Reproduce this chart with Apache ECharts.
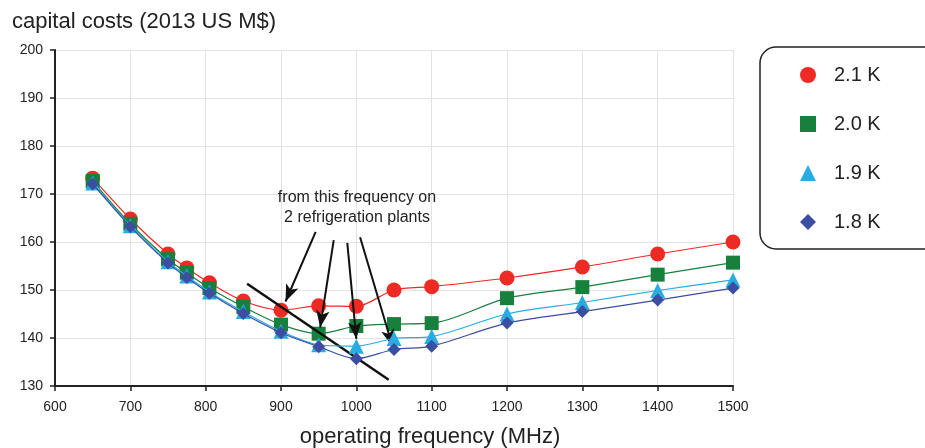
<!DOCTYPE html>
<html><head><meta charset="utf-8">
<script src="https://cdn.jsdelivr.net/npm/echarts@6/dist/echarts.min.js"></script>
<style>html,body{margin:0;padding:0;background:#fff}#c{width:925px;height:448px}</style>
</head><body><div id="c"></div>
<script>
const freq = [650,700,750,775,805,850,900,950,1000,1050,1100,1200,1300,1400,1500];
const k21 = [173.3,164.8,157.5,154.6,151.5,147.7,145.8,146.7,146.6,150.0,150.7,152.5,154.8,157.5,160.0];
const k20 = [172.7,163.8,156.4,153.6,150.4,146.5,142.8,140.9,142.5,142.9,143.1,148.3,150.6,153.2,155.7];
const k19 = [172.3,163.4,155.9,152.9,149.6,145.5,141.4,138.6,138.3,139.9,140.3,145.0,147.4,149.9,152.1];
const k18 = [172.1,163.2,155.6,152.6,149.3,145.1,141.1,138.2,135.7,137.6,138.3,143.1,145.5,147.9,150.4];
const seriesNames = ['2.1 K','2.0 K','1.9 K','1.8 K'];
const xTicks = [600,700,800,900,1000,1100,1200,1300,1400,1500];
const yTicks = [130,140,150,160,170,180,190,200];
// annotation arrows: [tail, head] in data coordinates
const arrows = [
  [[946,162.1],[906,147.6]],
  [[970,160.4],[952,142.2]],
  [[988,159.8],[1000,139.8]],
  [[1005,161.0],[1048,138.3]]
];
const cutLine = [[855,151.3],[1043,131.3]];

const colors = ['#ee2a24','#17803d','#2aace2','#3a4ea2'];
const symbols = ['circle','rect','triangle','diamond'];
const sizes = [15,14,15,13];
const vals = [k21,k20,k19,k18];

const font = '"Liberation Sans", Arial, sans-serif';
const chart = echarts.init(document.getElementById('c'));
const series = vals.map((v,i)=>({
  name: seriesNames[i], type:'line', smooth:0.3,
  data: freq.map((f,j)=>[f,v[j]]),
  symbol: symbols[i], symbolSize: sizes[i],
  itemStyle:{color:colors[i]},
  lineStyle:{color:colors[i], width:1.2},
  z: 3+i
}));
series.push({
  name:'annot', type:'line', data:[], silent:true, z:10,
  markLine:{
    silent:true, animation:false,
    label:{show:false},
    data: arrows.map(a=>[
      {coord:a[0], symbol:'none', lineStyle:{color:'#111', width:2, type:'solid'}},
      {coord:a[1], symbol:'arrow', symbolSize:[10,17]}
    ]).concat([[
      {coord:cutLine[0], symbol:'none', lineStyle:{color:'#111', width:2.5, type:'solid'}},
      {coord:cutLine[1], symbol:'none'}
    ]])
  }
});
chart.setOption({
  animation:false,
  textStyle:{fontFamily:font},
  grid:{left:55, right:192, top:50, bottom:62},
  xAxis:{
    type:'value', min:xTicks[0], max:xTicks[xTicks.length-1], interval:100,
    axisLine:{lineStyle:{color:'#222', width:2}},
    axisTick:{show:true, length:5, lineStyle:{color:'#222', width:1.5}},
    axisLabel:{fontSize:14, color:'#222', margin:14, formatter:v=>String(v)},
    splitLine:{show:true, lineStyle:{color:'#e3e3e3', width:1}}
  },
  yAxis:{
    type:'value', min:yTicks[0], max:yTicks[yTicks.length-1], interval:10,
    axisLine:{show:true, lineStyle:{color:'#222', width:2}},
    axisTick:{show:true, length:5, lineStyle:{color:'#222', width:1.5}},
    axisLabel:{fontSize:14, color:'#222', margin:12, formatter:v=>String(v)},
    splitLine:{show:true, lineStyle:{color:'#e3e3e3', width:1}}
  },
  legend:{
    orient:'vertical', left:760, top:47,
    data: seriesNames.map((n,i)=>({name:n, icon:symbols[i]})),
    itemWidth:16, itemHeight:16, itemGap:29,
    padding:[18,120,17,40],
    borderColor:'#222', borderWidth:1.5, borderRadius:16,
    textStyle:{fontSize:20, color:'#222', padding:[0,0,0,13]}
  },
  graphic:[
    {type:'text', left:12, top:11, style:{text:'capital costs (2013 US M$)', fontSize:22, fill:'#222', fontFamily:font}},
    {type:'text', x:430, y:426, style:{text:'operating frequency (MHz)', fontSize:22, fill:'#222', align:'center', fontFamily:font}},
    {type:'text', x:357, y:188, style:{text:'from this frequency on\n2 refrigeration plants', fontSize:16, lineHeight:20, fill:'#222', align:'center', fontFamily:font}, z:20}
  ],
  series
});
</script></body></html>
